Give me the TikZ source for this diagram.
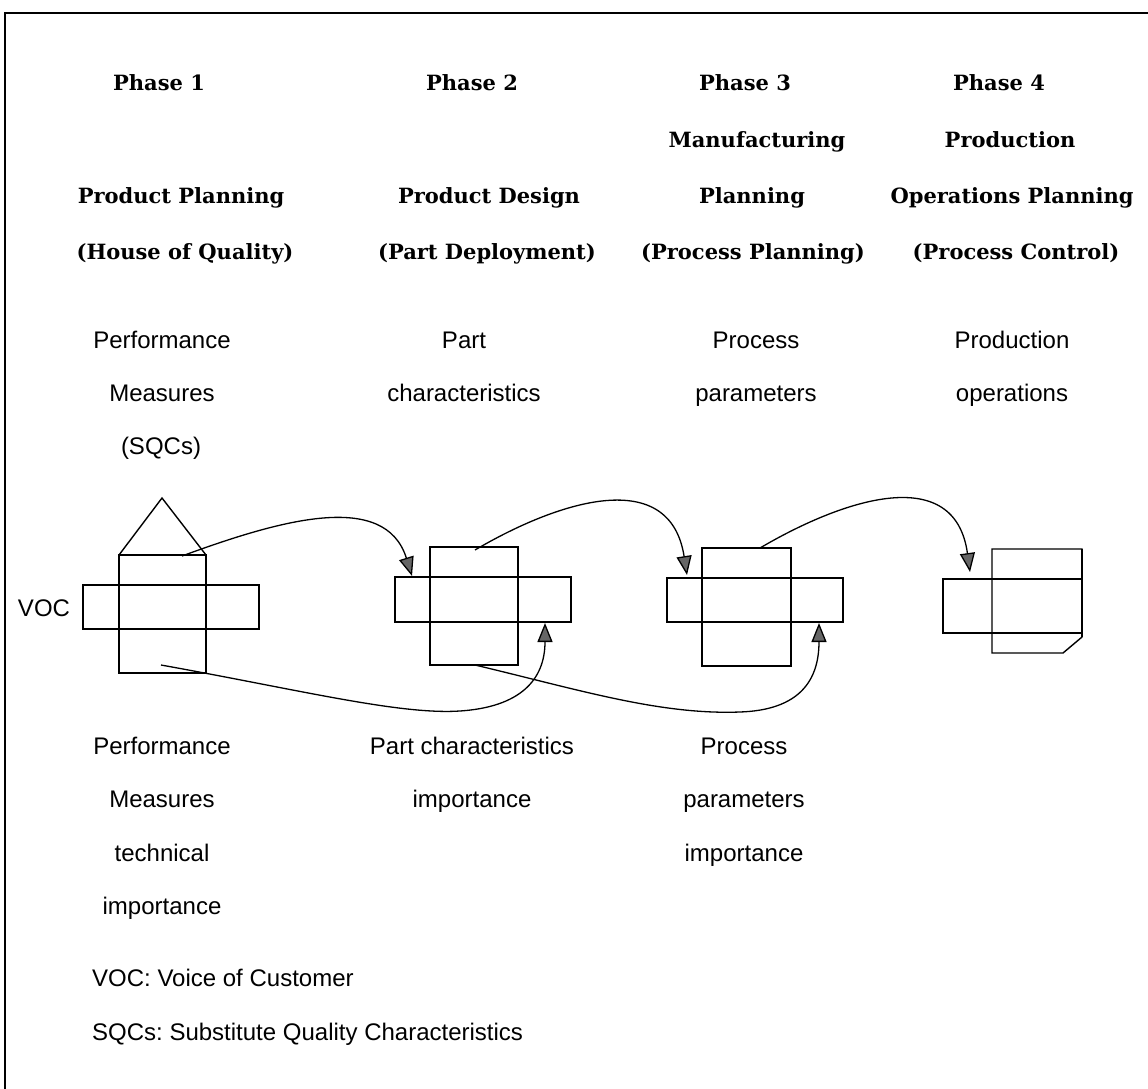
\documentclass[tikz,border=0pt]{standalone}
\usepackage{fontspec}
\setmainfont{Liberation Sans}
\newfontfamily\headfont{DejaVu Serif}
\usetikzlibrary{arrows.meta}
\frenchspacing
\begin{document}
\begin{tikzpicture}[x=1pt,y=-1pt,
  hdr/.style={font=\headfont\bfseries\fontsize{21}{25}\selectfont,
    inner sep=0pt, text height=15pt, text depth=0pt, anchor=center},
  txt/.style={font=\fontsize{24}{28}\selectfont,
    inner sep=0pt, text height=17pt, text depth=0pt, anchor=center},
  panel/.style={draw, line width=1.4pt, inner sep=0pt, outer sep=0pt},
  flow/.style={line width=1.3pt,
    -{Triangle[length=19pt,width=15pt,fill=black!60]}},
]
\useasboundingbox (0,0) rectangle (1148,1089);

% outer frame
\draw[line width=1.6pt] (5,1089) -- (5,13) -- (1148,13);

% phase headings
\node[hdr] (p1) at (159,83) {Phase 1};
\node[hdr] (p2) at (472,83) {Phase 2};
\node[hdr] (p3) at (745,83) {Phase 3};
\node[hdr] (p4) at (999,83) {Phase 4};
\node[hdr] (m3) at (757,140) {Manufacturing};
\node[hdr] (m4) at (1010,140) {Production};
\node[hdr] (t1) at (181,196) {Product Planning};
\node[hdr] (t2) at (489,196) {Product Design};
\node[hdr] (t3) at (752,196) {Planning};
\node[hdr] (t4) at (1012,196) {Operations Planning};
\node[hdr] (s1) at (185,252) {(House of Quality)};
\node[hdr] (s2) at (487,252) {(Part Deployment)};
\node[hdr] (s3) at (753,252) {(Process Planning)};
\node[hdr] (s4) at (1016,252) {(Process Control)};

% column outputs
\node[txt] (o1a) at (162,340) {Performance};
\node[txt] (o1b) at (162,393) {Measures};
\node[txt] (o1c) at (161,446) {(SQCs)};
\node[txt] (o2a) at (464,340) {Part};
\node[txt] (o2b) at (464,393) {characteristics};
\node[txt] (o3a) at (756,340) {Process};
\node[txt] (o3b) at (756,393) {parameters};
\node[txt] (o4a) at (1012,340) {Production};
\node[txt] (o4b) at (1012,393) {operations};

% importance labels
\node[txt] (i1a) at (162,746) {Performance};
\node[txt] (i1b) at (162,799) {Measures};
\node[txt] (i1c) at (162,853) {technical};
\node[txt] (i1d) at (162,906) {importance};
\node[txt] (i2a) at (472,746) {Part characteristics};
\node[txt] (i2b) at (472,799) {importance};
\node[txt] (i3a) at (744,746) {Process};
\node[txt] (i3b) at (744,799) {parameters};
\node[txt] (i3c) at (744,853) {importance};

\node[txt] (voc) at (44,608) {VOC};

% legend
\node[txt, anchor=west] (lg1) at (92,978) {VOC: Voice of Customer};
\node[txt, anchor=west] (lg2) at (92,1032) {SQCs: Substitute Quality Characteristics};

% house of quality (phase 1)
\node[panel, minimum width=87pt, minimum height=118pt] (v1) at (162.5,614) {};
\node[panel, minimum width=176pt, minimum height=44pt] (h1) at (171,607) {};
\coordinate (roof) at (162,498);
\draw[line width=1.4pt] (v1.north west) -- (roof) -- (v1.north east);

% phase 2 matrix
\node[panel, minimum width=88pt, minimum height=118pt] (v2) at (474,606) {};
\node[panel, minimum width=176pt, minimum height=45pt] (h2) at (483,599.5) {};

% phase 3 matrix
\node[panel, minimum width=89pt, minimum height=118pt] (v3) at (746.5,607) {};
\node[panel, minimum width=176pt, minimum height=44pt] (h3) at (755,600) {};

% phase 4 matrix
\node[panel, minimum width=139pt, minimum height=54pt] (h4) at (1012.5,606) {};
\draw[line width=1.4pt] (992,653) -- (992,549) -- (1082,549) -- (1082,637)
  -- (1063,653) -- cycle;
\draw[line width=2.2pt] (1082,549) -- (1082,637);

% connector end points
\coordinate (a1s) at (182,556);
\coordinate (a1e) at (412,576);
\coordinate (a2s) at (475,550);
\coordinate (a2e) at (687,575);
\coordinate (a3s) at (760,548);
\coordinate (a3e) at (970,572);
\coordinate (b1s) at (161,665);
\coordinate (b1e) at (545,623);
\coordinate (b2s) at (475,665);
\coordinate (b2e) at (819,623);

% outputs carried forward (top arcs)
\draw[flow] (a1s) .. controls (280,520) and (385,490) .. (a1e);
\draw[flow] (a2s) .. controls (560,500) and (670,466) .. (a2e);
\draw[flow] (a3s) .. controls (845,498) and (955,463) .. (a3e);

% importance carried forward (bottom arcs)
\draw[flow] (b1s) .. controls (300,690) and (400,715) .. (460,711)
  .. controls (520,707) and (545,680) .. (b1e);
\draw[flow] (b2s) .. controls (580,690) and (660,715) .. (740,712)
  .. controls (800,710) and (819,680) .. (b2e);
\end{tikzpicture}
\end{document}
